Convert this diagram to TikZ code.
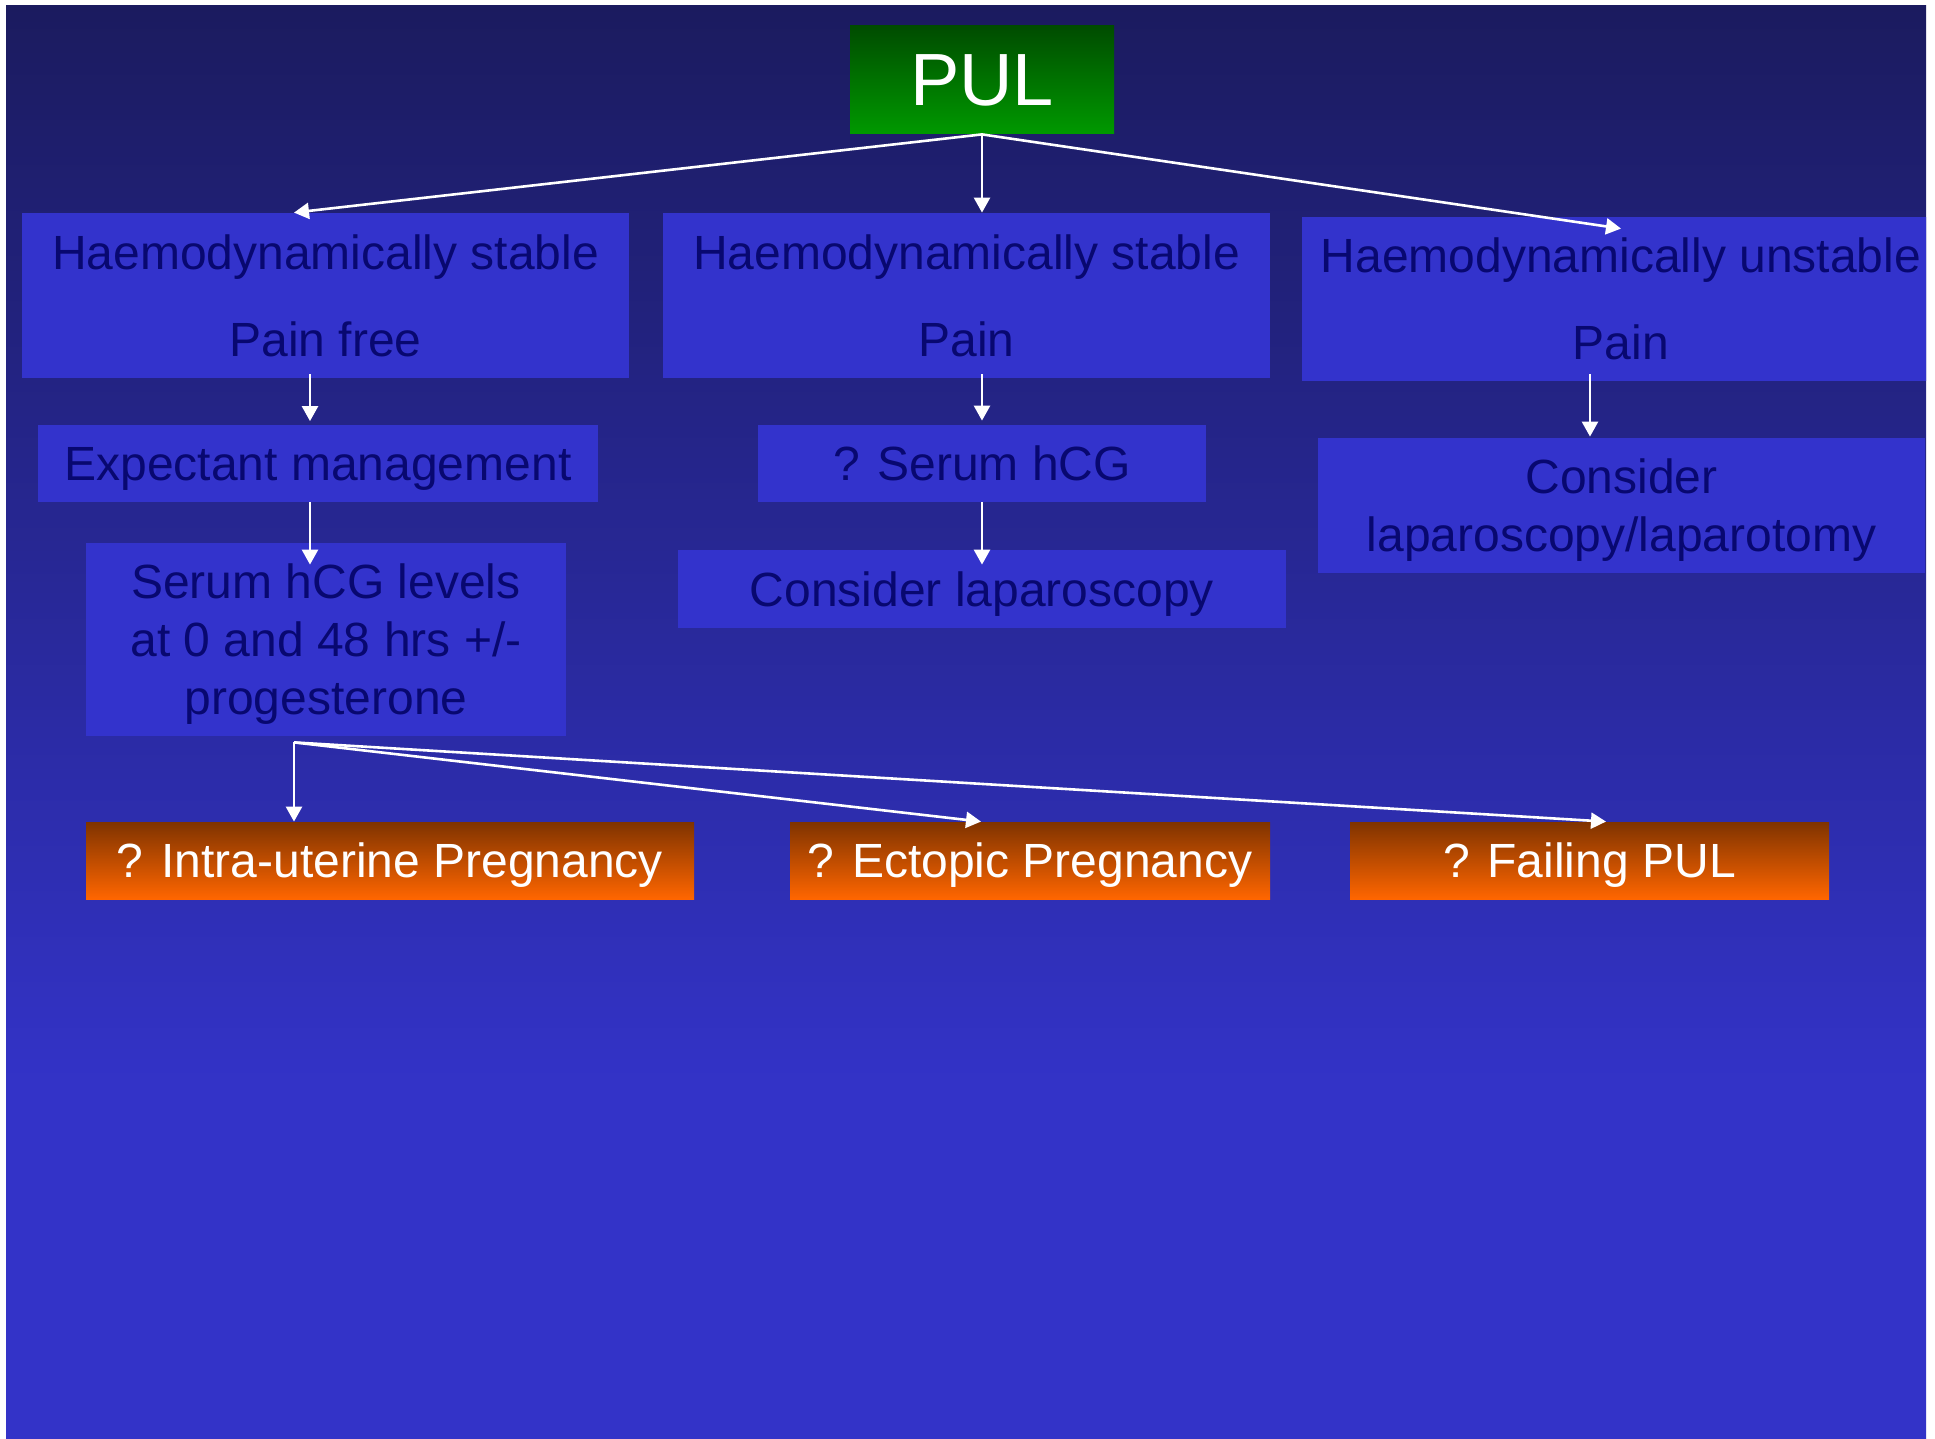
\documentclass[tikz,border=0pt]{standalone}
\usepackage{fontspec}
\setmainfont{Liberation Sans}
\usetikzlibrary{arrows.meta,calc}

\definecolor{bgtop}{HTML}{1B1B5F}
\definecolor{bgbot}{HTML}{3333C8}
\definecolor{boxblue}{HTML}{3333CC}
\definecolor{inktext}{HTML}{080870}
\definecolor{greentop}{HTML}{004C00}
\definecolor{greenbot}{HTML}{009900}
\definecolor{orangetop}{HTML}{7F3300}
\definecolor{orangebot}{HTML}{FF6600}

% page background: dark navy at the top, flat bright blue in the lower quarter
\pgfdeclareverticalshading{pagebg}{100bp}{color(0bp)=(bgbot); color(37bp)=(bgbot); color(75bp)=(bgtop); color(100bp)=(bgtop)}

\begin{document}
\begin{tikzpicture}[x=0.5pt,y=-0.5pt,
  boxtext/.style={font=\fontsize{24}{29}\selectfont},
  stepbox/.style={boxtext, fill=boxblue, text=inktext, inner sep=0pt, align=center},
  onebox/.style={boxtext, fill=boxblue, text=inktext, inner sep=0pt, text depth=0pt},
  outcome/.style={boxtext, top color=orangetop, bottom color=orangebot, text=white,
    inner sep=0pt, text depth=0pt, minimum height=38.5pt},
  rootbox/.style={top color=greentop, bottom color=greenbot, text=white, inner sep=0pt,
    text depth=0pt, font=\fontsize{37}{44}\selectfont},
  arr/.style={draw=white, line width=1.3pt, -{Triangle[length=7.5pt,width=8pt]}}]

\useasboundingbox (0,0) rectangle (1935,1439);
\fill[white] (0,0) rectangle (1935,1439);
\shade[shading=pagebg] (6,6) rectangle (1926,1439);

\begin{scope}
\clip (6,6) rectangle (1926,1439);

% root
\node[rootbox, minimum width=132pt, minimum height=54pt] (pul) at (982,80) {PUL};

% first level
\node[stepbox, minimum width=303.5pt, minimum height=82.5pt] (b1) at (325.5,295.5)
  {Haemodynamically stable\\[14.5pt]Pain free};
\node[stepbox, minimum width=303.5pt, minimum height=82.5pt] (b2) at (966.5,295.5)
  {Haemodynamically stable\\[14.5pt]Pain};
\node[stepbox, minimum width=319pt, minimum height=82pt] (b3) at (1621,299)
  {Haemodynamically unstable\\[14.5pt]Pain};

% second level
\node[onebox, minimum width=280pt, minimum height=38pt] (ex) at (318,463.5) {Expectant management};
\node[onebox, minimum width=224pt, minimum height=38.5pt] (sh) at (982,463.5) {? Serum hCG};
\node[stepbox, minimum width=303.5pt, minimum height=67.5pt] (cll) at (1621.5,505.5)
  {Consider\\\smash{laparoscopy/laparotomy}};

% third level
\node[stepbox, minimum width=240pt, minimum height=96.5pt] (sl) at (326,639.5)
  {Serum hCG levels\\at 0 and 48 hrs +/-\\\smash{progesterone}};
\node[onebox, minimum width=304pt, minimum height=39pt] (cl) at (982,589) {Consider laparoscopy};

% outcomes
\node[outcome, minimum width=304pt] (iu) at (390,860.5) {? Intra-uterine Pregnancy};
\node[outcome, minimum width=240pt] (ec) at (1030,860.5) {? Ectopic Pregnancy};
\node[outcome, minimum width=239.5pt] (fp) at (1589.5,860.5) {? Failing PUL};

% connector columns
\coordinate (c1) at (310,0);
\coordinate (c2) at (982,0);
\coordinate (c3) at (1590,0);
\coordinate (fork) at ($(sl.south)+(-32,6)$);

\draw[arr] (pul.south) -- ($(b1.north)+(-31.5,0)$);
\draw[arr] (pul.south) -- (pul.south |- b2.north);
\draw[arr] (pul.south) -- ($(b3.north)+(0,12)$);

\draw[arr] ($(c1 |- b1.south)+(0,-4)$) -- ($(c1 |- ex.north)+(0,-4)$);
\draw[arr] (c1 |- ex.south) -- ($(c1 |- sl.north)+(0,22)$);
\draw[arr] ($(c2 |- b2.south)+(0,-4)$) -- ($(c2 |- sh.north)+(0,-4)$);
\draw[arr] (c2 |- sh.south) -- ($(c2 |- cl.north)+(0,15)$);
\draw[arr] ($(c3 |- b3.south)+(0,-7)$) -- ($(c3 |- cll.north)+(0,-1)$);

\draw[arr] (fork) -- (fork |- iu.north);
\draw[arr] (fork) -- ($(ec.north)+(-49,0)$);
\draw[arr] (fork) -- ($(fp.north)+(16.5,0)$);
\end{scope}

\end{tikzpicture}
\end{document}
